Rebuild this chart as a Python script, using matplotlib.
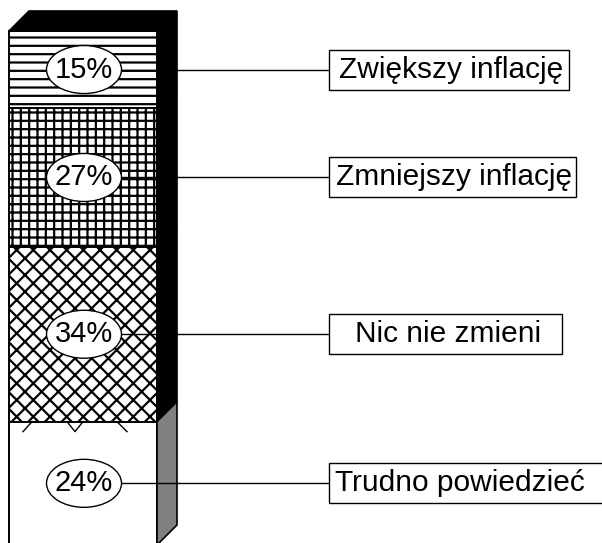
import matplotlib
matplotlib.use('Agg')
import matplotlib.pyplot as plt
from matplotlib.patches import Polygon, Ellipse, Rectangle

plt.rcParams['font.family'] = ['Liberation Sans', 'DejaVu Sans']
plt.rcParams['hatch.linewidth'] = 1.6

# dane (od góry słupka do dołu)
labels = ['Zwiększy inflację', 'Zmniejszy inflację', 'Nic nie zmieni', 'Trudno powiedzieć']
values = [15, 27, 34, 24]
hatches = ['--', '++', 'xx', '']
side_colors = ['black', 'black', 'black', '#808080']
box_widths = [240, 247, 233, 300]
text_pad = [10, 7, 26, 6]

# skala: 100% = 514 px, dół słupka na 545 px
px_per_unit = 5.14
y_base = 545
depth_x = 20
depth_y = 20 / px_per_unit

fig = plt.figure(figsize=(6.02, 5.43), dpi=100)
ax = fig.add_axes([0, 0, 1, 1])
ax.set_xlim(0, 602)
ax.set_ylim((y_base - 543) / px_per_unit, y_base / px_per_unit)
ax.axis('off')

bar_x = 9
bar_w = 148

# słupek układany od dołu
bottoms = []
b = 0
for v in values[::-1]:
    bottoms.append(b)
    b += v
bottoms = bottoms[::-1]

for v, bot, h, sc in zip(values, bottoms, hatches, side_colors):
    ax.bar(bar_x, v, width=bar_w, bottom=bot, align='edge', facecolor='white',
           edgecolor='black', hatch=h, linewidth=1.4, zorder=2)
    xr = bar_x + bar_w
    side = Polygon([(xr, bot), (xr + depth_x, bot + depth_y),
                    (xr + depth_x, bot + v + depth_y), (xr, bot + v)],
                   closed=True, facecolor=sc, edgecolor='black', linewidth=1.2, zorder=2)
    ax.add_patch(side)

total = sum(values)
top = Polygon([(bar_x, total), (bar_x + depth_x, total + depth_y),
               (bar_x + bar_w + depth_x, total + depth_y), (bar_x + bar_w, total)],
              closed=True, facecolor='black', edgecolor='black', linewidth=1.2, zorder=2)
ax.add_patch(top)

# drobne kreski pod kratką (artefakt oryginału)
yb = values[-1]
yd = yb - 10 / px_per_unit
for xs, ys in [([23, 32], [yd, yb]), ([67, 75, 83], [yb, yd, yb]), ([117, 127], [yb, yd])]:
    ax.plot(xs, ys, color='black', lw=1, zorder=3)

# etykiety procentowe i opisy
ell_w = 75
ell_h = 48 / px_per_unit
cx = 84
box_x = 329
box_h = 40 / px_per_unit
for lab, v, bot, bw, tp in zip(labels, values, bottoms, box_widths, text_pad):
    mid = bot + v / 2
    ax.plot([cx + ell_w / 2, box_x], [mid, mid], color='black', lw=1, zorder=4)
    ax.add_patch(Ellipse((cx, mid), ell_w, ell_h, facecolor='white',
                         edgecolor='black', linewidth=1, zorder=5))
    ax.text(cx, mid, '%d%%' % v, ha='center', va='center', fontsize=21, zorder=6)
    ax.add_patch(Rectangle((box_x, mid - box_h / 2), bw, box_h, facecolor='white',
                           edgecolor='black', linewidth=1, zorder=5, clip_on=False))
    ax.text(box_x + tp, mid, lab, ha='left', va='center', fontsize=21.5, zorder=6)

fig.savefig('out.png', dpi=100)
